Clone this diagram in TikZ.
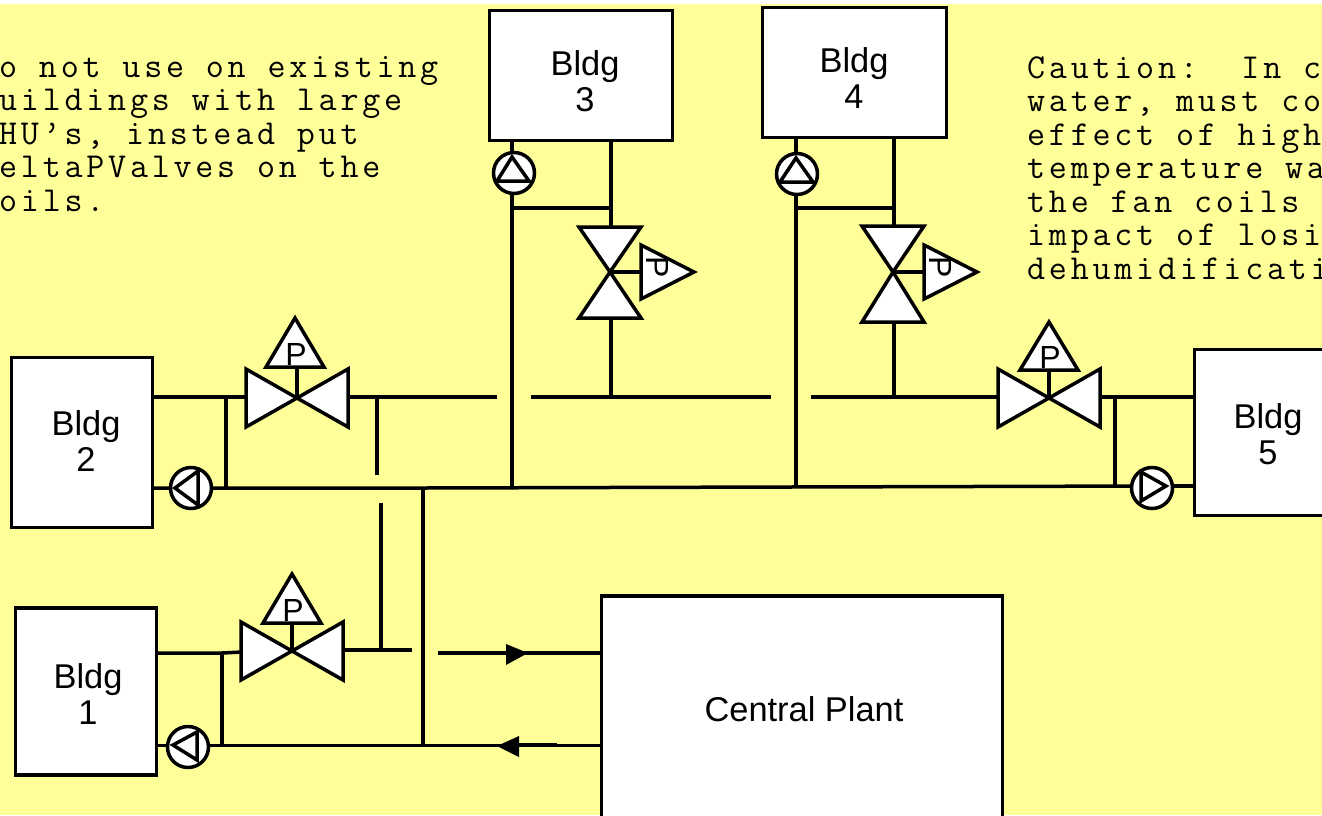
\documentclass[tikz,border=0pt]{standalone}
\usepackage{fontspec}
\setmainfont{Liberation Sans}
\newfontfamily\notefont[LetterSpace=10.8]{Latin Modern Mono}
\definecolor{bgyellow}{HTML}{FFFF99}
\tikzset{
  pipe/.style={line width=3.5pt},
  thinpipe/.style={line width=3pt},
  shapefill/.style={draw=black,fill=white,line width=3.5pt},
  bldgbox/.style={draw=black,fill=white,line width=3.5pt,rectangle,inner sep=0pt},
  bldglabel/.style={inner sep=0pt,align=center,font=\fontsize{34.4}{36}\selectfont},
  valveletter/.style={inner sep=0pt,font=\fontsize{32}{32}\selectfont},
  pumpbody/.style={draw=black,fill=white,line width=3.5pt,circle,inner sep=0pt,minimum size=41pt},
  notetext/.style={inner sep=0pt,anchor=north west,align=left,font=\notefont\fontsize{35}{33.5}\selectfont},
  filledtip/.style={fill=black,draw=none}
}
% name, cx, cy, sensor cx, sensor base y, sensor apex y
\newcommand{\HValve}[6]{
  \coordinate (#1-c) at (#2,#3);
  \coordinate (#1-l) at (#2-51,#3);
  \coordinate (#1-r) at (#2+51,#3);
  \coordinate (#1-s) at (#2,#5);
  \draw[shapefill] (#2,#3) -- (#2-51,#3-29) -- (#2-51,#3+29) -- cycle;
  \draw[shapefill] (#2,#3) -- (#2+51,#3-29) -- (#2+51,#3+29) -- cycle;
  \draw[pipe] (#1-c) -- (#1-s);
  \draw[shapefill] (#4,#6+1) -- (#4+29,#5) -- (#4-29,#5) -- cycle;
  \node[valveletter] (#1-p) at (#4+1,#5-13) {P};
}
% name, cx, cy, top base y, bottom base y
\newcommand{\VValve}[5]{
  \coordinate (#1-c) at (#2,#3);
  \coordinate (#1-t) at (#2,#4);
  \coordinate (#1-b) at (#2,#5);
  \coordinate (#1-s) at (#2+31,#3);
  \draw[shapefill] (#2,#3) -- (#2-31,#4) -- (#2+31,#4) -- cycle;
  \draw[shapefill] (#2,#3) -- (#2-31,#5) -- (#2+31,#5) -- cycle;
  \draw[pipe] (#1-c) -- (#1-s);
  \draw[shapefill] (#2+31,#3-27) -- (#2+84,#3) -- (#2+31,#3+27) -- cycle;
  \node[valveletter,rotate=-90] (#1-p) at (#2+47,#3-5) {P};
}
\begin{document}
\begin{tikzpicture}[x=1pt,y=-1pt]
\useasboundingbox (0,0) rectangle (1322,815);
\fill[white] (0,0) rectangle (1322,815);
\clip (0,0) rectangle (1322,815);
\fill[bgyellow] (0,4) rectangle (1322,815);

% notes
\node[notetext] (noteL) at (-1,56) {o not use on existing\\uildings with large\\HU’s, instead put\\eltaPValves on the\\oils.};
\node[notetext] (noteR) at (1027,56) {Caution:\ \ In c\\water, must co\\effect of high\\temperature wa\\the fan coils\\impact of losi\\dehumidificati};

% buildings
\node[bldgbox,minimum width=183pt,minimum height=130pt] (b3) at (581,75.5) {};
\node[bldgbox,minimum width=184pt,minimum height=130pt] (b4) at (854.5,72.5) {};
\node[bldgbox,minimum width=141pt,minimum height=170pt] (b2) at (82,442.5) {};
\node[bldgbox,minimum width=141pt,minimum height=167pt] (b1) at (86,691.5) {};
\node[bldgbox,minimum width=148pt,minimum height=166pt] (b5) at (1268.5,432.5) {};
\node[bldgbox,minimum width=401pt,minimum height=240pt] (plant) at (802,716) {};

% junction points
\coordinate (c3) at (514,173);
\coordinate (c4) at (797,174);
\coordinate (c2) at (191,488);
\coordinate (c1) at (188,747);
\coordinate (c5) at (1152,488);
\coordinate (b3r) at (611,141);
\coordinate (b3l) at (512,141);
\coordinate (j3a) at (512,208);
\coordinate (j3b) at (611,208);
\coordinate (j3m) at (512,489);
\coordinate (h3) at (611,397);
\coordinate (b4r) at (894,138);
\coordinate (b4l) at (796,138);
\coordinate (j4a) at (796,208);
\coordinate (j4b) at (894,208);
\coordinate (j4m) at (796,487);
\coordinate (h4) at (894,397);
\coordinate (b2u) at (153,397);
\coordinate (b2d) at (153,488);
\coordinate (j2u) at (226,397);
\coordinate (j2d) at (226,488);
\coordinate (gapA) at (377,397);
\coordinate (gapAe) at (377,475);
\coordinate (gapB) at (497,397);
\coordinate (gapC) at (531,397);
\coordinate (gapD) at (771,397);
\coordinate (gapE) at (811,397);
\coordinate (mainT) at (423,488);
\coordinate (mainB) at (423,745);
\coordinate (mainR) at (1152,486);
\coordinate (b5u) at (1194,397);
\coordinate (b5d) at (1194,486);
\coordinate (j5u) at (1115,397);
\coordinate (j5d) at (1115,486);
\coordinate (b1u) at (157,653);
\coordinate (b1d) at (157,745);
\coordinate (j1u) at (222,653);
\coordinate (j1d) at (222,745);
\coordinate (vlnB) at (381,503);
\coordinate (vlnT) at (381,650);
\coordinate (vlnE) at (412,650);
\coordinate (v1out) at (342,650);
\coordinate (v1in) at (242,652);
\coordinate (supS) at (438,653);
\coordinate (supE) at (601,653);
\coordinate (retE) at (601,745);
\coordinate (retA) at (557,745);
\coordinate (retB) at (510,745);

% pipes
\draw[pipe] (b3r) -- (h3);
\draw[pipe] (b3l) -- (j3m);
\draw[pipe] (j3a) -- (j3b);
\draw[pipe] (b4r) -- (h4);
\draw[pipe] (b4l) -- (j4m);
\draw[pipe] (j4a) -- (j4b);
\draw[pipe] (b2u) -- (gapB);
\draw[pipe] (gapC) -- (gapD);
\draw[pipe] (gapE) -- (b5u);
\draw[pipe] (gapA) -- (gapAe);
\draw[pipe] (j2u) -- (j2d);
\draw[pipe] (b2d) -- (mainT) -- (mainR);
\draw[pipe] (mainT) -- (mainB);
\draw[pipe] (mainR) -- (b5d);
\draw[pipe] (j5u) -- (j5d);
\draw[pipe] (b1u) -- (j1u) -- (v1in);
\draw[pipe] (j1u) -- (j1d);
\draw[thinpipe] (b1d) -- (retE);
\draw[pipe] (vlnB) -- (vlnT);
\draw[pipe] (v1out) -- (vlnE);
\draw[pipe] (supS) -- (supE);
\draw[pipe] (retB) -- (retA);

% pumps
\node[pumpbody] (p3) at (c3) {};
\node[pumpbody] (p4) at (c4) {};
\node[pumpbody] (p2) at (c2) {};
\node[pumpbody] (p1) at (c1) {};
\node[pumpbody] (p5) at (c5) {};

% pump triangles
\draw[shapefill] (512,157) -- (529,181) -- (497,181) -- cycle;
\draw[shapefill] (796,158) -- (813,182) -- (780,182) -- cycle;
\draw[shapefill] (175,488) -- (198,471) -- (198,505) -- cycle;
\draw[shapefill] (173,745) -- (197,732) -- (197,760) -- cycle;
\draw[shapefill] (1166,486) -- (1141,472) -- (1141,501) -- cycle;

% valves
\HValve{v2}{297}{398}{295}{367}{317}
\HValve{v5}{1049}{398}{1049}{370}{321}
\HValve{v1}{292}{651}{292}{623}{573}
\VValve{v3}{610}{272}{227}{318}
\VValve{v4}{893}{272}{226}{322}

% arrowheads
\fill[filledtip] (528,653) -- (506,644) -- (506,665) -- cycle;
\fill[filledtip] (497,746) -- (519,736) -- (519,757) -- cycle;

% labels
\node[bldglabel] (l3) at (585,81) {Bldg\\3};
\node[bldglabel] (l4) at (854,78) {Bldg\\4};
\node[bldglabel] (l2) at (86,441) {Bldg\\2};
\node[bldglabel] (l1) at (88,694) {Bldg\\1};
\node[bldglabel] (l5) at (1268,434) {Bldg\\5};
\node[bldglabel] (lp) at (804,709) {Central Plant};
\end{tikzpicture}
\end{document}
